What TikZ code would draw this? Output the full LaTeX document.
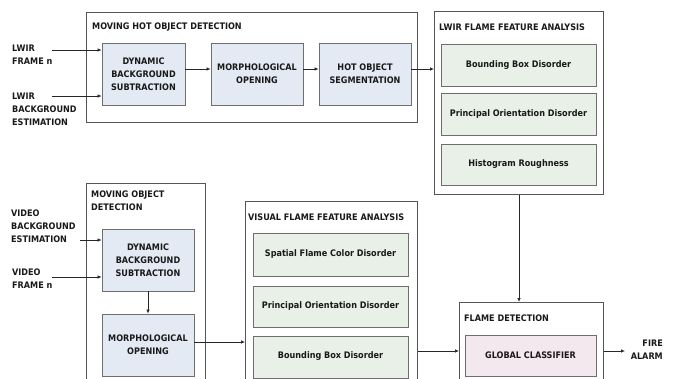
\documentclass[tikz,border=0pt]{standalone}
\usepackage{fontspec}
\setmainfont{DejaVu Sans Condensed}[BoldFont={DejaVu Sans Condensed Bold}]
\usetikzlibrary{arrows.meta}
\definecolor{outerline}{HTML}{555555}
\definecolor{innerline}{HTML}{6E6E6E}
\definecolor{bluefill}{HTML}{E4EAF4}
\definecolor{greenfill}{HTML}{E9F0E8}
\definecolor{pinkfill}{HTML}{F2E8EE}
\tikzset{
  x=1pt, y=-1pt,
  every node/.style={font=\bfseries\fontsize{9}{13}\selectfont, text=black!90},
  outerbox/.style={draw=outerline, line width=0.8pt, fill=white},
  blockbox/.style={draw=innerline, line width=0.8pt, fill=bluefill, align=center, inner sep=0pt},
  featbox/.style={draw=innerline, line width=0.8pt, fill=greenfill, align=center, inner sep=0pt},
  classbox/.style={draw=innerline, line width=0.8pt, fill=pinkfill, align=center, inner sep=0pt},
  titletext/.style={anchor=west, inner sep=0pt, align=left},
  sidetext/.style={anchor=west, inner sep=0pt, align=left},
  arr/.style={draw=black!85, line width=0.7pt, -{Latex[length=4pt,width=3.5pt]}},
}
\begin{document}
\begin{tikzpicture}
\useasboundingbox (0,0) rectangle (674,378);
\clip (0,0) rectangle (674,378);
% outer boxes
\node[outerbox, minimum width=331pt, minimum height=110pt, anchor=north west, inner sep=0pt] (mhod) at (86,12) {};
\node[outerbox, minimum width=169pt, minimum height=183pt, anchor=north west, inner sep=0pt] (lffa) at (434,11) {};
\node[outerbox, minimum width=119pt, minimum height=210pt, anchor=north west, inner sep=0pt] (mod) at (86,183) {};
\node[outerbox, minimum width=172pt, minimum height=200pt, anchor=north west, inner sep=0pt] (vffa) at (245,201) {};
\node[outerbox, minimum width=144pt, minimum height=100pt, anchor=north west, inner sep=0pt] (fd) at (459,302) {};
% titles
\node[titletext] (t1) at (92,27) {MOVING HOT OBJECT DETECTION};
\node[titletext] (t2) at (439,27) {LWIR FLAME FEATURE ANALYSIS};
\node[titletext, anchor=north west] (t3) at (91,191) {MOVING OBJECT\\DETECTION};
\node[titletext] (t4) at (248,217) {VISUAL FLAME FEATURE ANALYSIS};
\node[titletext] (t5) at (464,318) {FLAME DETECTION};
% top row blocks
\node[blockbox, minimum width=83pt, minimum height=62pt] (dbs1) at (143.5,74) {DYNAMIC\\BACKGROUND\\SUBTRACTION};
\node[blockbox, minimum width=92pt, minimum height=62pt] (mo1) at (257,74) {MORPHOLOGICAL\\OPENING};
\node[blockbox, minimum width=92pt, minimum height=62pt] (hos) at (365,74) {HOT OBJECT\\SEGMENTATION};
% LWIR features
\node[featbox, minimum width=155pt, minimum height=42pt] (lf1) at (518.5,65) {Bounding Box Disorder};
\node[featbox, minimum width=155pt, minimum height=42pt] (lf2) at (518.5,114) {Principal Orientation Disorder};
\node[featbox, minimum width=155pt, minimum height=41pt] (lf3) at (518.5,164.5) {Histogram Roughness};
% bottom-left blocks
\node[blockbox, minimum width=92pt, minimum height=62pt] (dbs2) at (148,260) {DYNAMIC\\BACKGROUND\\SUBTRACTION};
\node[blockbox, minimum width=92pt, minimum height=62pt] (mo2) at (148,345) {MORPHOLOGICAL\\OPENING};
% visual features
\node[featbox, minimum width=155pt, minimum height=43pt] (vf1) at (330.5,254.5) {Spatial Flame Color Disorder};
\node[featbox, minimum width=155pt, minimum height=41pt] (vf2) at (330.5,306.5) {Principal Orientation Disorder};
\node[featbox, minimum width=155pt, minimum height=42pt] (vf3) at (330.5,357) {};
\node[inner sep=0pt] (vf3t) at (330.5,356) {Bounding Box Disorder};
% classifier
\node[classbox, minimum width=131pt, minimum height=41pt] (gc) at (530.5,355.5) {GLOBAL CLASSIFIER};
% side labels
\node[sidetext] (l1) at (12,54.5) {LWIR\\FRAME n};
\node[sidetext] (l2) at (12,109) {LWIR\\BACKGROUND\\ESTIMATION};
\node[sidetext] (l3) at (11,226) {VIDEO\\BACKGROUND\\ESTIMATION};
\node[sidetext] (l4) at (12,279) {VIDEO\\FRAME n};
\node[anchor=east, inner sep=0pt, align=right] (fa) at (663,349.5) {FIRE\\ALARM};
% connector ends
\coordinate (s1) at (52,50);
\coordinate (s2) at (52,96);
\coordinate (s3) at (80,240);
\coordinate (s4) at (52,277);
\coordinate (e1) at (625,351);
% connectors
\draw[arr] (s1) -- (s1 -| dbs1.west);
\draw[arr] (s2) -- (s2 -| dbs1.west);
\draw[arr] (dbs1.east |- 0,69) -- (mo1.west |- 0,69);
\draw[arr] (mo1.east |- 0,69) -- (hos.west |- 0,69);
\draw[arr] (hos.east |- 0,69) -- (lffa.west |- 0,69);
\draw[arr] (lffa.south -| 519,0) -- (fd.north -| 519,0);
\draw[arr] (s3) -- (s3 -| dbs2.west);
\draw[arr] (s4) -- (s4 -| dbs2.west);
\draw[arr] (dbs2) -- (mo2);
\draw[arr] (mo2.east |- 0,342) -- (vffa.west |- 0,342);
\draw[arr] (vffa.east |- 0,351) -- (fd.west |- 0,351);
\draw[arr] (fd.east |- e1) -- (e1);
\end{tikzpicture}
\end{document}
